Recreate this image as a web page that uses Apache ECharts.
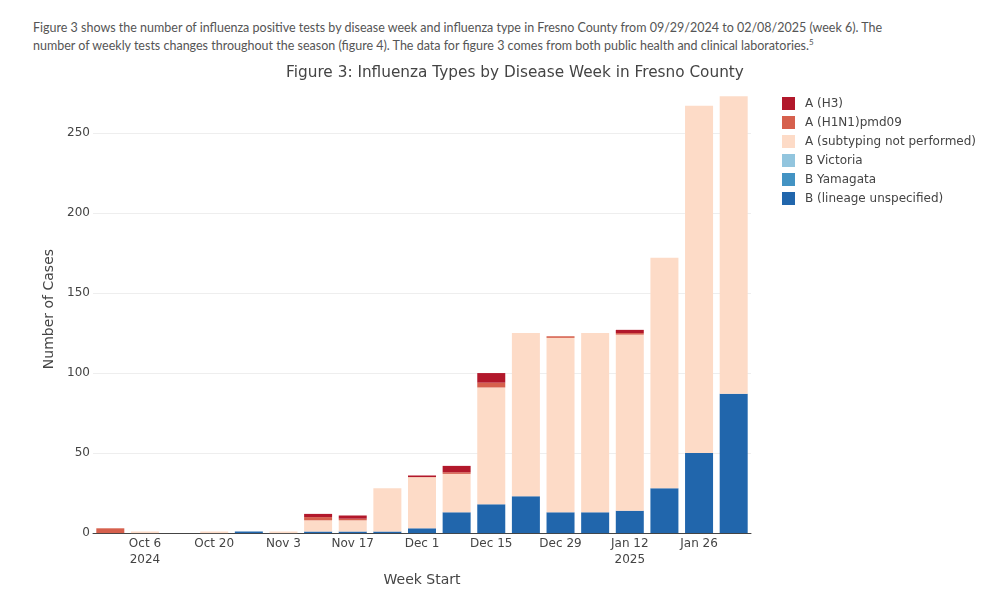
<!DOCTYPE html>
<html>
<head>
<meta charset="UTF-8">
<title>Figure 3</title>
<script type="text/javascript" src="https://cdn.jsdelivr.net/npm/echarts@6/dist/echarts.min.js"></script>
<style>
	body { margin: 0; background: #fff; }
	#intro {
		position: absolute; left: 33px; top: 19px;
		font-family: Lato, "Open Sans", sans-serif; font-size: 12.5px;
		line-height: 17.5px; color: #555; white-space: nowrap;
	}
	#intro sup { font-size: 8px; line-height: 0; }
</style>
</head>
<body>
<div id="intro">Figure 3 shows the number of influenza positive tests by disease week and influenza type in Fresno County from 09/29/2024 to 02/08/2025 (week 6). The<br>number of weekly tests changes throughout the season (figure 4). The data for figure 3 comes from both public health and clinical laboratories.<sup>5</sup></div>
<div id="main" style="width: 991px; height: 592px"></div>

<script type="text/javascript">
	// week start dates (x axis)
	var weeks = ['Sep 29','Oct 6','Oct 13','Oct 20','Oct 27','Nov 3','Nov 10','Nov 17','Nov 24',
		'Dec 1','Dec 8','Dec 15','Dec 22','Dec 29','Jan 5','Jan 12','Jan 19','Jan 26','Feb 2'];
	// year shown under the first tick of each year
	var tickYears = {1: '2024', 15: '2025'};

	// cases per week, one array per type
	var bLineage  = [0,0,0,0,1,0,1,1,1,3,13,18,23,13,13,14,28,50,87];
	var bYamagata = [0,0,0,0,0,0,0,0,0,0,0,0,0,0,0,0,0,0,0];
	var bVictoria = [0,0,0,0,0,0,0,0,0,0,0,0,0,0,0,0,0,0,0];
	var aNoSub    = [0,1,0,1,0,1,7,7,27,32,24,73,102,109,112,110,144,217,186];
	var aH1N1     = [3,0,0,0,0,0,2,1,0,0,1,3,0,1,0,1,0,0,0];
	var aH3       = [0,0,0,0,0,0,2,2,0,1,4,6,0,0,0,2,0,0,0];

	var yTicks = [0, 50, 100, 150, 200, 250];

	var font = '"DejaVu Sans", Verdana, sans-serif';

	function bar(name, data, color) {
		return {
			name: name,
			type: 'bar',
			stack: 'flu',
			data: data,
			barWidth: 28,
			itemStyle: { color: color },
			emphasis: { disabled: true }
		};
	}

	var mychart = echarts.init(document.getElementById('main'));
	var option = {
		animation: false,
		title: {
			text: 'Figure 3: Influenza Types by Disease Week in Fresno County',
			left: 510,
			top: 61,
			textAlign: 'center',
			textStyle: { fontFamily: font, fontSize: 15.3, fontWeight: 'normal', color: '#444' }
		},
		legend: {
			orient: 'vertical',
			left: 777,
			top: 92,
			icon: 'rect',
			itemWidth: 13,
			itemHeight: 13,
			itemGap: 6,
			textStyle: { fontFamily: font, fontSize: 12, color: '#444', padding: [0, 0, 0, 5] },
			data: ['A (H3)', 'A (H1N1)pmd09', 'A (subtyping not performed)', 'B Victoria', 'B Yamagata', 'B (lineage unspecified)']
		},
		grid: { left: 93, right: 240, top: 85, bottom: 58 },
		xAxis: {
			type: 'category',
			data: weeks,
			name: 'Week Start',
			nameLocation: 'middle',
			nameGap: 38,
			nameTextStyle: { fontFamily: font, fontSize: 14, color: '#444' },
			axisLine: { lineStyle: { color: '#444', width: 1 } },
			axisTick: { show: false },
			axisLabel: {
				interval: function (index) { return index % 2 === 1; },
				formatter: function (value, index) {
					return tickYears[index] ? value + '\n' + tickYears[index] : value;
				},
				margin: 3,
				lineHeight: 16,
				fontFamily: font,
				fontSize: 12,
				color: '#444'
			}
		},
		yAxis: {
			type: 'value',
			min: yTicks[0],
			max: 280,
			interval: yTicks[1] - yTicks[0],
			name: 'Number of Cases',
			nameLocation: 'middle',
			nameGap: 35,
			nameTextStyle: { fontFamily: font, fontSize: 14, color: '#444' },
			axisLine: { show: false },
			axisTick: { show: false },
			axisLabel: { margin: 3, fontFamily: font, fontSize: 12, color: '#444', showMaxLabel: false },
			splitLine: { showMaxLine: false, lineStyle: { color: '#eee', width: 1 } }
		},
		series: [
			bar('B (lineage unspecified)', bLineage, '#2166ac'),
			bar('B Yamagata', bYamagata, '#4393c3'),
			bar('B Victoria', bVictoria, '#92c5de'),
			bar('A (subtyping not performed)', aNoSub, '#fddbc7'),
			bar('A (H1N1)pmd09', aH1N1, '#d6604d'),
			bar('A (H3)', aH3, '#b2182b')
		]
	};
	mychart.setOption(option);
</script>
</body>
</html>
